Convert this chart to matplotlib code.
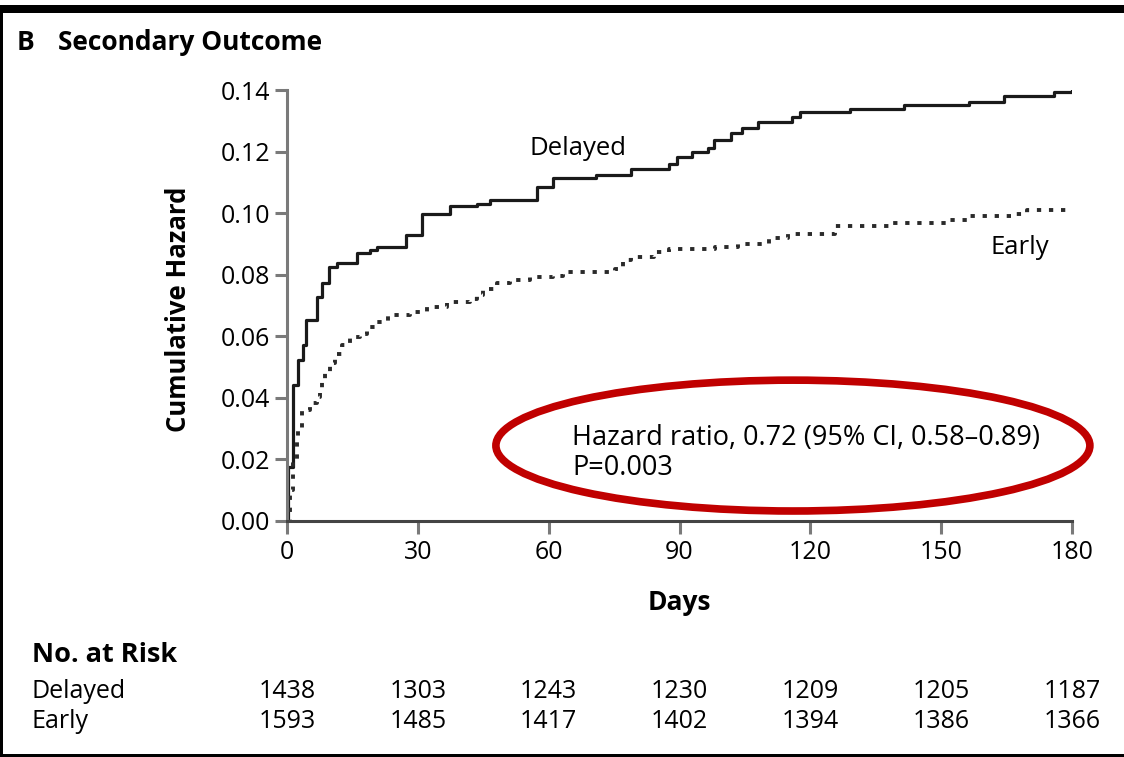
import numpy as np
import matplotlib
matplotlib.use('Agg')
import matplotlib.pyplot as plt
from matplotlib.patches import Ellipse, Rectangle
from matplotlib.transforms import blended_transform_factory

plt.rcParams['font.family'] = ['Open Sans', 'DejaVu Sans']

# cumulative hazard (day, value)
days_delayed = [0, 0.2, 1.3, 2.5, 3.7, 4.4, 6.8, 8.0, 9.6, 11.4, 16.0, 19.0, 20.6, 27.4,
                30.9, 37.4, 43.5, 46.5, 57.3, 61.0, 70.9, 78.8, 87.6, 89.4, 92.9, 96.5,
                97.8, 101.8, 104.4, 107.9, 115.9, 117.6, 129.1, 141.4, 156.4, 164.4,
                175.8, 180]
haz_delayed = [0, 0.0176, 0.0442, 0.0523, 0.0571, 0.0653, 0.0728, 0.0773, 0.0826, 0.0838,
               0.087, 0.088, 0.0891, 0.0929, 0.0997, 0.1024, 0.1031, 0.1042, 0.1085,
               0.1113, 0.1123, 0.1145, 0.1161, 0.1183, 0.1199, 0.121, 0.1237, 0.1259,
               0.1275, 0.1296, 0.1313, 0.1327, 0.1338, 0.1351, 0.1361, 0.1381, 0.1392,
               0.1405]

days_early = [0, 0.7, 1.4, 2.2, 2.6, 3.4, 5.3, 6.8, 7.6, 8.0, 8.7, 9.9, 11.0, 12.5, 14.4,
              16.7, 18.3, 20.6, 23.2, 28.2, 32.0, 36.6, 42.0, 43.5, 45.0, 48.1, 51.1,
              55.7, 61.0, 63.3, 75.3, 77.0, 78.8, 84.1, 87.6, 98.1, 103.5, 110.5, 114.9,
              125.7, 138.4, 152.0, 156.0, 166.9, 169.7, 180]
haz_early = [0, 0.010, 0.0198, 0.0263, 0.0302, 0.036, 0.0383, 0.0404, 0.0425, 0.0458,
             0.0485, 0.0512, 0.0544, 0.0571, 0.0598, 0.0609, 0.0631, 0.0647, 0.0669,
             0.068, 0.0696, 0.0712, 0.072, 0.0734, 0.0752, 0.0772, 0.0782, 0.0793,
             0.0795, 0.081, 0.082, 0.0847, 0.0858, 0.0874, 0.0885, 0.0889, 0.0901,
             0.0918, 0.0932, 0.0958, 0.0967, 0.0977, 0.099, 0.0997, 0.101, 0.101]

x_ticks = [0, 30, 60, 90, 120, 150, 180]
y_ticks = [0.00, 0.02, 0.04, 0.06, 0.08, 0.10, 0.12, 0.14]
risk_delayed = [1438, 1303, 1243, 1230, 1209, 1205, 1187]
risk_early = [1593, 1485, 1417, 1402, 1394, 1386, 1366]

W, H = 1124, 757
fig = plt.figure(figsize=(W / 100, H / 100), dpi=100)
ax = fig.add_axes([287 / W, 1 - 521 / H, (1072 - 287) / W, (521 - 90) / H])

ax.step(days_delayed, haz_delayed, where='post', color='#1a1a1a', lw=2.3)
ax.step(days_early, haz_early, where='post', color='#2a2a2a', lw=2.8,
        linestyle=(0, (1.1, 2.0)), dash_capstyle='butt')

ax.set_xlim(0, 180)
ax.set_ylim(0, 0.14)
ax.set_xticks(x_ticks)
ax.set_yticks(y_ticks)
ax.set_yticklabels(['%.2f' % v for v in y_ticks])
for s in ['top', 'right']:
    ax.spines[s].set_visible(False)
ax.spines['left'].set_color('#7a7a7a')
ax.spines['bottom'].set_color('#444444')
ax.spines['left'].set_linewidth(2.2)
ax.spines['bottom'].set_linewidth(2.2)
ax.tick_params(axis='y', length=9, width=2.2, color='#7a7a7a', pad=3, labelsize=18)
ax.tick_params(axis='x', length=9, width=2.2, color='#7a7a7a', pad=5, labelsize=18)

ax.set_xlabel('Days', fontsize=19, fontweight='bold', va='center')
ax.xaxis.set_label_coords(0.5, (521 - 603) / (521 - 90))
ax.set_ylabel('Cumulative Hazard', fontsize=18.5, fontweight='bold', va='center')
ax.yaxis.set_label_coords((178 - 287) / (1072 - 287), 0.49)

ax.text(55.7, 0.1211, 'Delayed', fontsize=18.5, va='center', ha='left')
ax.text(161.2, 0.089, 'Early', fontsize=18.5, va='center', ha='left')
ax.text(65.4, 0.0269, 'Hazard ratio, 0.72 (95% CI, 0.58\u20130.89)', fontsize=19.5,
        va='center', ha='left')
ax.text(65.4, 0.0172, 'P=0.003', fontsize=19.5, va='center', ha='left')

ell = Ellipse((116.0, 0.0245), 136.2, 0.0425, fill=False, edgecolor='#c00000',
              lw=5.5, clip_on=False)
ax.add_patch(ell)

# title
fig.text(17 / W, 1 - 43 / H, 'B', fontsize=19, fontweight='bold', va='center')
fig.text(58 / W, 1 - 43 / H, 'Secondary Outcome', fontsize=19, fontweight='bold',
         va='center')

# number at risk table
fig.text(32 / W, 1 - 655 / H, 'No. at Risk', fontsize=19.5, fontweight='bold', va='center')
fig.text(32 / W, 1 - 691 / H, 'Delayed', fontsize=18, va='center')
fig.text(32 / W, 1 - 722 / H, 'Early', fontsize=18, va='center')
tr = blended_transform_factory(ax.transData, fig.transFigure)
for d, a, b in zip(x_ticks, risk_delayed, risk_early):
    ax.text(d, 1 - 691 / H, str(a), transform=tr, ha='center', va='center', fontsize=18)
    ax.text(d, 1 - 722 / H, str(b), transform=tr, ha='center', va='center', fontsize=18)

# black frame pieces
fig.patches.append(Rectangle((0, 1 - 13 / H), 1, 8 / H, transform=fig.transFigure,
                             facecolor='black', edgecolor='none'))
fig.patches.append(Rectangle((0, 0), 3 / W, 1 - 13 / H, transform=fig.transFigure,
                             facecolor='black', edgecolor='none'))
fig.patches.append(Rectangle((0, 0), 1, 3 / H, transform=fig.transFigure,
                             facecolor='black', edgecolor='none'))

fig.savefig('out.png', dpi=100)
plt.close('all')
